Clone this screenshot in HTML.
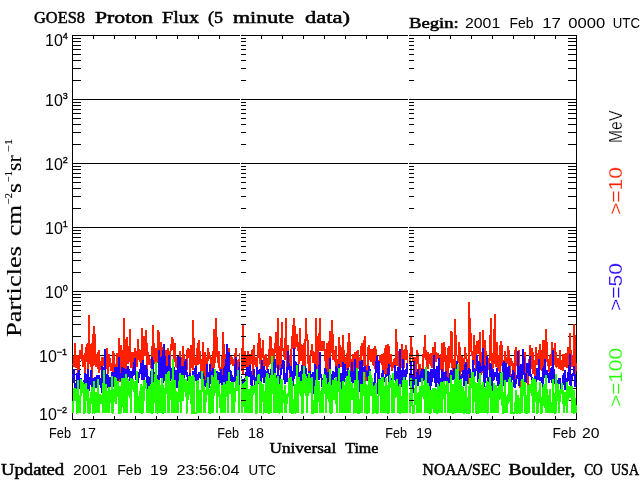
<!DOCTYPE html>
<html><head><meta charset="utf-8"><title>GOES8 Proton Flux</title>
<style>html,body{margin:0;padding:0;background:#fff;}body{width:640px;height:480px;overflow:hidden;}svg{display:block;}</style>
</head><body>
<svg width="640" height="480" viewBox="0 0 640 480">
<g fill="#000" shape-rendering="crispEdges"><rect x="72" y="99" width="505" height="1"/><rect x="72" y="163" width="505" height="1"/><rect x="72" y="227" width="505" height="1"/><rect x="72" y="291" width="505" height="1"/><rect x="72" y="355" width="505" height="1"/><rect x="73" y="80" width="8" height="1"/><rect x="568" y="80" width="8" height="1"/><rect x="73" y="68" width="8" height="1"/><rect x="568" y="68" width="8" height="1"/><rect x="73" y="60" width="8" height="1"/><rect x="568" y="60" width="8" height="1"/><rect x="73" y="54" width="8" height="1"/><rect x="568" y="54" width="8" height="1"/><rect x="73" y="49" width="8" height="1"/><rect x="568" y="49" width="8" height="1"/><rect x="73" y="45" width="8" height="1"/><rect x="568" y="45" width="8" height="1"/><rect x="73" y="41" width="8" height="1"/><rect x="568" y="41" width="8" height="1"/><rect x="73" y="38" width="8" height="1"/><rect x="568" y="38" width="8" height="1"/><rect x="73" y="144" width="8" height="1"/><rect x="568" y="144" width="8" height="1"/><rect x="73" y="132" width="8" height="1"/><rect x="568" y="132" width="8" height="1"/><rect x="73" y="124" width="8" height="1"/><rect x="568" y="124" width="8" height="1"/><rect x="73" y="118" width="8" height="1"/><rect x="568" y="118" width="8" height="1"/><rect x="73" y="113" width="8" height="1"/><rect x="568" y="113" width="8" height="1"/><rect x="73" y="109" width="8" height="1"/><rect x="568" y="109" width="8" height="1"/><rect x="73" y="105" width="8" height="1"/><rect x="568" y="105" width="8" height="1"/><rect x="73" y="102" width="8" height="1"/><rect x="568" y="102" width="8" height="1"/><rect x="73" y="208" width="8" height="1"/><rect x="568" y="208" width="8" height="1"/><rect x="73" y="196" width="8" height="1"/><rect x="568" y="196" width="8" height="1"/><rect x="73" y="188" width="8" height="1"/><rect x="568" y="188" width="8" height="1"/><rect x="73" y="182" width="8" height="1"/><rect x="568" y="182" width="8" height="1"/><rect x="73" y="177" width="8" height="1"/><rect x="568" y="177" width="8" height="1"/><rect x="73" y="173" width="8" height="1"/><rect x="568" y="173" width="8" height="1"/><rect x="73" y="169" width="8" height="1"/><rect x="568" y="169" width="8" height="1"/><rect x="73" y="166" width="8" height="1"/><rect x="568" y="166" width="8" height="1"/><rect x="73" y="272" width="8" height="1"/><rect x="568" y="272" width="8" height="1"/><rect x="73" y="260" width="8" height="1"/><rect x="568" y="260" width="8" height="1"/><rect x="73" y="252" width="8" height="1"/><rect x="568" y="252" width="8" height="1"/><rect x="73" y="246" width="8" height="1"/><rect x="568" y="246" width="8" height="1"/><rect x="73" y="241" width="8" height="1"/><rect x="568" y="241" width="8" height="1"/><rect x="73" y="237" width="8" height="1"/><rect x="568" y="237" width="8" height="1"/><rect x="73" y="233" width="8" height="1"/><rect x="568" y="233" width="8" height="1"/><rect x="73" y="230" width="8" height="1"/><rect x="568" y="230" width="8" height="1"/><rect x="73" y="336" width="8" height="1"/><rect x="568" y="336" width="8" height="1"/><rect x="73" y="324" width="8" height="1"/><rect x="568" y="324" width="8" height="1"/><rect x="73" y="316" width="8" height="1"/><rect x="568" y="316" width="8" height="1"/><rect x="73" y="310" width="8" height="1"/><rect x="568" y="310" width="8" height="1"/><rect x="73" y="305" width="8" height="1"/><rect x="568" y="305" width="8" height="1"/><rect x="73" y="301" width="8" height="1"/><rect x="568" y="301" width="8" height="1"/><rect x="73" y="297" width="8" height="1"/><rect x="568" y="297" width="8" height="1"/><rect x="73" y="294" width="8" height="1"/><rect x="568" y="294" width="8" height="1"/><rect x="73" y="400" width="8" height="1"/><rect x="568" y="400" width="8" height="1"/><rect x="73" y="388" width="8" height="1"/><rect x="568" y="388" width="8" height="1"/><rect x="73" y="380" width="8" height="1"/><rect x="568" y="380" width="8" height="1"/><rect x="73" y="374" width="8" height="1"/><rect x="568" y="374" width="8" height="1"/><rect x="73" y="369" width="8" height="1"/><rect x="568" y="369" width="8" height="1"/><rect x="73" y="365" width="8" height="1"/><rect x="568" y="365" width="8" height="1"/><rect x="73" y="361" width="8" height="1"/><rect x="568" y="361" width="8" height="1"/><rect x="73" y="358" width="8" height="1"/><rect x="568" y="358" width="8" height="1"/><rect x="93" y="36" width="1" height="3"/><rect x="93" y="416" width="1" height="3"/><rect x="114" y="36" width="1" height="3"/><rect x="114" y="416" width="1" height="3"/><rect x="135" y="36" width="1" height="3"/><rect x="135" y="416" width="1" height="3"/><rect x="156" y="36" width="1" height="3"/><rect x="156" y="416" width="1" height="3"/><rect x="177" y="36" width="1" height="3"/><rect x="177" y="416" width="1" height="3"/><rect x="198" y="36" width="1" height="3"/><rect x="198" y="416" width="1" height="3"/><rect x="219" y="36" width="1" height="3"/><rect x="219" y="416" width="1" height="3"/><rect x="261" y="36" width="1" height="3"/><rect x="261" y="416" width="1" height="3"/><rect x="282" y="36" width="1" height="3"/><rect x="282" y="416" width="1" height="3"/><rect x="303" y="36" width="1" height="3"/><rect x="303" y="416" width="1" height="3"/><rect x="324" y="36" width="1" height="3"/><rect x="324" y="416" width="1" height="3"/><rect x="345" y="36" width="1" height="3"/><rect x="345" y="416" width="1" height="3"/><rect x="366" y="36" width="1" height="3"/><rect x="366" y="416" width="1" height="3"/><rect x="387" y="36" width="1" height="3"/><rect x="387" y="416" width="1" height="3"/><rect x="429" y="36" width="1" height="3"/><rect x="429" y="416" width="1" height="3"/><rect x="450" y="36" width="1" height="3"/><rect x="450" y="416" width="1" height="3"/><rect x="471" y="36" width="1" height="3"/><rect x="471" y="416" width="1" height="3"/><rect x="492" y="36" width="1" height="3"/><rect x="492" y="416" width="1" height="3"/><rect x="513" y="36" width="1" height="3"/><rect x="513" y="416" width="1" height="3"/><rect x="534" y="36" width="1" height="3"/><rect x="534" y="416" width="1" height="3"/><rect x="555" y="36" width="1" height="3"/><rect x="555" y="416" width="1" height="3"/><rect x="72" y="35" width="505" height="1"/><rect x="72" y="419" width="505" height="1"/><rect x="72" y="35" width="1" height="385"/><rect x="576" y="35" width="1" height="385"/></g>
<g><path fill="#ff2000" d="M72 364h1v1h-1zM73 356h1v11h-1zM74 343h1v24h-1zM75 343h1v25h-1zM76 355h1v13h-1zM77 355h1v18h-1zM78 355h1v15h-1zM79 350h1v20h-1zM80 350h1v9h-1zM81 344h1v17h-1zM82 344h1v23h-1zM83 355h1v12h-1zM84 353h1v20h-1zM85 347h1v26h-1zM86 344h1v18h-1zM87 343h1v26h-1zM88 315h1v54h-1zM89 315h1v49h-1zM90 344h1v23h-1zM91 343h1v27h-1zM92 334h1v44h-1zM93 326h1v40h-1zM94 326h1v39h-1zM95 334h1v33h-1zM96 354h1v13h-1zM97 352h1v17h-1zM98 350h1v23h-1zM99 350h1v23h-1zM100 361h1v9h-1zM101 357h1v9h-1zM102 357h1v9h-1zM103 357h1v9h-1zM106 348h1v21h-1zM107 348h1v26h-1zM108 354h1v20h-1zM109 354h1v13h-1zM110 358h1v13h-1zM111 363h1v8h-1zM112 351h1v21h-1zM113 351h1v21h-1zM114 353h1v14h-1zM115 364h1v3h-1zM116 353h1v14h-1zM117 353h1v14h-1zM118 338h1v19h-1zM119 338h1v19h-1zM119 379h1v3h-1zM120 345h1v28h-1zM120 381h1v1h-1zM121 345h1v22h-1zM122 350h1v17h-1zM123 318h1v50h-1zM124 318h1v50h-1zM125 339h1v30h-1zM126 337h1v32h-1zM127 337h1v27h-1zM128 346h1v18h-1zM129 329h1v33h-1zM130 329h1v39h-1zM131 352h1v16h-1zM132 352h1v17h-1zM133 352h1v10h-1zM134 348h1v10h-1zM135 348h1v10h-1zM136 351h1v16h-1zM137 339h1v28h-1zM138 339h1v21h-1zM139 349h1v13h-1zM140 350h1v13h-1zM141 328h1v35h-1zM142 328h1v32h-1zM143 336h1v24h-1zM144 336h1v20h-1zM145 330h1v26h-1zM146 330h1v35h-1zM147 343h1v26h-1zM148 352h1v13h-1zM149 356h1v9h-1zM150 359h1v9h-1zM151 346h1v11h-1zM152 325h1v32h-1zM153 325h1v35h-1zM154 343h1v21h-1zM155 348h1v14h-1zM156 348h1v14h-1zM157 330h1v33h-1zM158 330h1v20h-1zM159 332h1v18h-1zM160 342h1v15h-1zM161 342h1v14h-1zM162 347h1v3h-1zM165 350h1v6h-1zM166 350h1v16h-1zM167 348h1v18h-1zM168 348h1v7h-1zM169 351h1v4h-1zM170 344h1v22h-1zM171 337h1v14h-1zM172 337h1v13h-1zM173 339h1v20h-1zM174 343h1v19h-1zM175 343h1v24h-1zM176 357h1v11h-1zM179 351h1v6h-1zM180 351h1v6h-1zM181 357h1v9h-1zM182 346h1v20h-1zM183 346h1v20h-1zM184 354h1v7h-1zM186 350h1v9h-1zM187 348h1v22h-1zM188 348h1v10h-1zM189 349h1v24h-1zM190 345h1v28h-1zM191 345h1v23h-1zM192 320h1v50h-1zM193 320h1v50h-1zM194 338h1v27h-1zM195 357h1v9h-1zM196 348h1v18h-1zM197 343h1v22h-1zM198 340h1v25h-1zM199 340h1v24h-1zM200 351h1v20h-1zM201 359h1v12h-1zM202 342h1v29h-1zM203 342h1v31h-1zM204 352h1v24h-1zM205 352h1v28h-1zM206 357h1v7h-1zM207 348h1v16h-1zM208 348h1v13h-1zM209 352h1v7h-1zM210 355h1v9h-1zM211 357h1v14h-1zM212 351h1v17h-1zM213 329h1v39h-1zM214 329h1v39h-1zM215 318h1v45h-1zM216 318h1v39h-1zM217 337h1v26h-1zM218 351h1v17h-1zM219 351h1v20h-1zM220 367h1v2h-1zM221 356h1v13h-1zM222 332h1v43h-1zM223 332h1v36h-1zM224 344h1v22h-1zM225 354h1v5h-1zM228 348h1v4h-1zM229 348h1v4h-1zM230 356h1v9h-1zM231 356h1v8h-1zM232 357h1v9h-1zM233 359h1v7h-1zM234 353h1v11h-1zM235 348h1v9h-1zM236 348h1v9h-1zM237 360h1v10h-1zM238 359h1v8h-1zM239 353h1v9h-1zM240 353h1v9h-1zM241 348h1v23h-1zM242 325h1v49h-1zM243 325h1v49h-1zM244 351h1v17h-1zM245 351h1v17h-1zM246 356h1v11h-1zM247 351h1v16h-1zM248 351h1v16h-1zM249 354h1v11h-1zM250 354h1v11h-1zM251 350h1v14h-1zM252 349h1v26h-1zM253 345h1v24h-1zM254 345h1v20h-1zM255 357h1v10h-1zM256 357h1v10h-1zM257 343h1v24h-1zM258 333h1v25h-1zM259 333h1v31h-1zM260 338h1v31h-1zM261 348h1v12h-1zM262 340h1v18h-1zM263 340h1v26h-1zM264 355h1v11h-1zM265 354h1v12h-1zM266 354h1v16h-1zM267 358h1v11h-1zM268 349h1v18h-1zM269 336h1v29h-1zM270 336h1v28h-1zM271 337h1v19h-1zM272 348h1v8h-1zM273 349h1v13h-1zM274 343h1v16h-1zM275 332h1v21h-1zM276 332h1v36h-1zM277 318h1v47h-1zM278 318h1v47h-1zM279 346h1v24h-1zM280 338h1v30h-1zM281 322h1v42h-1zM282 322h1v29h-1zM283 348h1v9h-1zM284 338h1v22h-1zM285 318h1v42h-1zM286 318h1v49h-1zM287 345h1v6h-1zM288 345h1v6h-1zM289 355h1v8h-1zM289 373h1v5h-1zM290 349h1v17h-1zM291 336h1v30h-1zM292 325h1v24h-1zM293 318h1v30h-1zM294 318h1v30h-1zM295 326h1v23h-1zM296 334h1v13h-1zM297 334h1v17h-1zM298 342h1v22h-1zM299 328h1v36h-1zM300 328h1v33h-1zM301 344h1v17h-1zM302 345h1v20h-1zM303 343h1v23h-1zM304 339h1v27h-1zM305 318h1v48h-1zM306 318h1v23h-1zM307 334h1v30h-1zM308 340h1v31h-1zM309 355h1v16h-1zM310 350h1v21h-1zM311 344h1v11h-1zM312 344h1v19h-1zM313 351h1v12h-1zM314 352h1v12h-1zM315 318h1v46h-1zM316 318h1v48h-1zM317 336h1v33h-1zM318 333h1v32h-1zM319 318h1v33h-1zM320 318h1v33h-1zM321 341h1v10h-1zM322 341h1v10h-1zM323 341h1v10h-1zM324 341h1v20h-1zM325 349h1v19h-1zM326 343h1v26h-1zM327 343h1v29h-1zM328 341h1v31h-1zM329 331h1v27h-1zM330 331h1v27h-1zM331 320h1v33h-1zM332 320h1v40h-1zM333 334h1v26h-1zM334 350h1v12h-1zM335 346h1v20h-1zM336 346h1v20h-1zM337 359h1v9h-1zM338 337h1v27h-1zM339 337h1v27h-1zM340 345h1v22h-1zM341 347h1v20h-1zM342 335h1v27h-1zM343 335h1v27h-1zM344 350h1v14h-1zM345 357h1v7h-1zM346 353h1v17h-1zM347 342h1v26h-1zM348 333h1v35h-1zM349 333h1v34h-1zM350 342h1v29h-1zM351 359h1v3h-1zM352 354h1v8h-1zM353 354h1v17h-1zM354 352h1v7h-1zM355 352h1v7h-1zM356 351h1v17h-1zM357 350h1v18h-1zM358 350h1v19h-1zM359 357h1v4h-1zM360 346h1v15h-1zM361 343h1v17h-1zM362 343h1v13h-1zM363 340h1v26h-1zM364 336h1v30h-1zM365 336h1v30h-1zM365 372h1v9h-1zM366 365h1v5h-1zM366 377h1v4h-1zM367 347h1v24h-1zM368 345h1v21h-1zM369 345h1v15h-1zM370 349h1v13h-1zM371 349h1v13h-1zM372 349h1v16h-1zM373 348h1v18h-1zM374 346h1v23h-1zM375 346h1v15h-1zM376 349h1v7h-1zM378 360h1v1h-1zM379 355h1v6h-1zM380 355h1v8h-1zM381 354h1v11h-1zM382 354h1v16h-1zM383 353h1v17h-1zM384 348h1v26h-1zM385 345h1v29h-1zM386 345h1v29h-1zM387 344h1v24h-1zM388 344h1v20h-1zM389 346h1v18h-1zM390 354h1v13h-1zM391 354h1v17h-1zM392 362h1v9h-1zM393 359h1v9h-1zM394 358h1v7h-1zM395 329h1v36h-1zM396 329h1v37h-1zM397 342h1v24h-1zM398 351h1v16h-1zM401 344h1v24h-1zM402 344h1v15h-1zM403 350h1v9h-1zM404 349h1v19h-1zM405 345h1v15h-1zM406 345h1v15h-1zM407 350h1v13h-1zM408 356h1v7h-1zM409 353h1v11h-1zM410 337h1v24h-1zM411 337h1v20h-1zM412 347h1v15h-1zM413 357h1v4h-1zM414 357h1v4h-1zM415 357h1v20h-1zM416 350h1v22h-1zM417 350h1v14h-1zM418 353h1v16h-1zM419 364h1v11h-1zM420 364h1v7h-1zM421 368h1v1h-1zM422 354h1v15h-1zM423 347h1v22h-1zM424 335h1v23h-1zM425 335h1v25h-1zM426 350h1v17h-1zM427 352h1v17h-1zM428 352h1v17h-1zM429 354h1v10h-1zM430 353h1v13h-1zM431 353h1v15h-1zM432 347h1v21h-1zM433 347h1v8h-1zM434 342h1v13h-1zM435 342h1v20h-1zM436 352h1v10h-1zM437 353h1v6h-1zM438 353h1v5h-1zM439 356h1v2h-1zM440 354h1v16h-1zM441 343h1v26h-1zM442 343h1v26h-1zM443 342h1v30h-1zM444 342h1v20h-1zM445 347h1v24h-1zM446 355h1v16h-1zM447 348h1v29h-1zM448 346h1v32h-1zM449 346h1v22h-1zM450 331h1v32h-1zM451 331h1v37h-1zM452 332h1v39h-1zM453 359h1v9h-1zM454 319h1v49h-1zM455 319h1v50h-1zM456 335h1v21h-1zM457 355h1v6h-1zM458 342h1v21h-1zM459 342h1v29h-1zM460 347h1v29h-1zM461 356h1v16h-1zM462 356h1v14h-1zM463 358h1v12h-1zM464 347h1v17h-1zM465 347h1v12h-1zM466 353h1v9h-1zM467 359h1v11h-1zM468 302h1v66h-1zM468 374h1v10h-1zM469 302h1v66h-1zM470 318h1v34h-1zM471 333h1v23h-1zM472 351h1v9h-1zM473 335h1v25h-1zM474 335h1v30h-1zM475 345h1v24h-1zM476 341h1v14h-1zM477 341h1v13h-1zM478 340h1v14h-1zM479 332h1v29h-1zM480 332h1v31h-1zM481 352h1v14h-1zM481 372h1v3h-1zM482 330h1v18h-1zM482 371h1v2h-1zM483 330h1v18h-1zM484 340h1v25h-1zM485 340h1v26h-1zM486 351h1v5h-1zM488 358h1v12h-1zM489 335h1v28h-1zM490 318h1v43h-1zM491 318h1v46h-1zM492 353h1v16h-1zM493 329h1v39h-1zM494 314h1v50h-1zM495 314h1v53h-1zM496 342h1v25h-1zM497 342h1v26h-1zM498 355h1v16h-1zM499 345h1v27h-1zM500 341h1v31h-1zM501 341h1v25h-1zM502 345h1v18h-1zM503 360h1v1h-1zM504 351h1v10h-1zM505 351h1v12h-1zM506 357h1v6h-1zM507 346h1v18h-1zM508 346h1v20h-1zM509 350h1v16h-1zM510 358h1v18h-1zM511 358h1v8h-1zM512 361h1v9h-1zM513 363h1v7h-1zM514 350h1v22h-1zM515 347h1v32h-1zM516 347h1v19h-1zM518 350h1v1h-1zM519 350h1v16h-1zM519 386h1v2h-1zM520 381h1v6h-1zM524 352h1v5h-1zM525 352h1v21h-1zM527 373h1v12h-1zM528 359h1v4h-1zM528 376h1v9h-1zM529 345h1v11h-1zM530 345h1v11h-1zM531 348h1v21h-1zM532 348h1v26h-1zM533 352h1v22h-1zM534 360h1v16h-1zM535 347h1v29h-1zM536 347h1v18h-1zM537 353h1v12h-1zM538 350h1v9h-1zM539 344h1v15h-1zM540 344h1v26h-1zM541 350h1v21h-1zM542 340h1v28h-1zM543 340h1v26h-1zM544 340h1v19h-1zM545 329h1v30h-1zM546 329h1v33h-1zM547 342h1v24h-1zM548 359h1v13h-1zM549 355h1v17h-1zM550 354h1v12h-1zM551 342h1v24h-1zM552 342h1v8h-1zM553 348h1v2h-1zM554 343h1v22h-1zM555 343h1v24h-1zM556 352h1v16h-1zM557 358h1v9h-1zM558 358h1v11h-1zM559 350h1v19h-1zM560 350h1v20h-1zM561 360h1v10h-1zM562 354h1v17h-1zM563 354h1v17h-1zM564 354h1v13h-1zM565 353h1v14h-1zM566 353h1v15h-1zM567 347h1v21h-1zM568 347h1v18h-1zM569 333h1v21h-1zM570 333h1v21h-1zM571 350h1v17h-1zM572 355h1v12h-1zM573 324h1v42h-1zM574 324h1v42h-1zM575 335h1v39h-1zM576 363h1v8h-1z"/><path fill="#2000ff" d="M72 374h1v4h-1zM73 369h1v14h-1zM74 369h1v19h-1zM75 383h1v5h-1zM76 373h1v16h-1zM77 373h1v7h-1zM78 370h1v10h-1zM79 370h1v18h-1zM80 378h1v1h-1zM81 378h1v1h-1zM83 380h1v2h-1zM84 373h1v11h-1zM85 373h1v10h-1zM86 374h1v9h-1zM87 369h1v20h-1zM88 369h1v20h-1zM89 377h1v14h-1zM90 370h1v15h-1zM91 370h1v17h-1zM92 378h1v9h-1zM93 378h1v3h-1zM94 377h1v4h-1zM95 377h1v11h-1zM96 375h1v13h-1zM97 375h1v4h-1zM98 375h1v4h-1zM99 375h1v10h-1zM100 378h1v10h-1zM101 366h1v27h-1zM102 366h1v17h-1zM103 367h1v3h-1zM104 349h1v21h-1zM105 349h1v35h-1zM106 374h1v10h-1zM107 374h1v14h-1zM108 375h1v12h-1zM109 377h1v10h-1zM110 377h1v10h-1zM111 372h1v4h-1zM112 372h1v4h-1zM113 372h1v15h-1zM114 367h1v10h-1zM115 367h1v10h-1zM116 367h1v11h-1zM117 367h1v14h-1zM118 357h1v24h-1zM119 357h1v22h-1zM120 373h1v8h-1zM121 367h1v11h-1zM122 367h1v11h-1zM123 368h1v10h-1zM124 368h1v10h-1zM125 369h1v5h-1zM126 369h1v5h-1zM127 366h1v12h-1zM128 366h1v11h-1zM129 369h1v12h-1zM130 371h1v7h-1zM131 371h1v7h-1zM132 369h1v10h-1zM133 362h1v14h-1zM134 358h1v17h-1zM135 358h1v22h-1zM138 372h1v11h-1zM139 369h1v9h-1zM140 363h1v11h-1zM141 363h1v17h-1zM142 360h1v20h-1zM143 360h1v20h-1zM144 365h1v15h-1zM145 365h1v12h-1zM146 365h1v18h-1zM147 369h1v20h-1zM148 376h1v10h-1zM149 377h1v9h-1zM150 371h1v13h-1zM151 357h1v12h-1zM152 357h1v12h-1zM153 360h1v22h-1zM154 372h1v2h-1zM157 375h1v4h-1zM158 350h1v30h-1zM159 350h1v30h-1zM160 357h1v21h-1zM161 356h1v22h-1zM162 350h1v28h-1zM163 344h1v39h-1zM164 344h1v37h-1zM165 356h1v18h-1zM166 366h1v8h-1zM167 366h1v6h-1zM168 355h1v16h-1zM169 355h1v16h-1zM170 366h1v15h-1zM171 368h1v11h-1zM174 367h1v13h-1zM175 370h1v10h-1zM176 370h1v18h-1zM177 356h1v32h-1zM178 356h1v25h-1zM179 357h1v16h-1zM180 357h1v16h-1zM181 366h1v9h-1zM182 366h1v9h-1zM183 366h1v9h-1zM184 361h1v17h-1zM185 359h1v16h-1zM186 359h1v18h-1zM187 372h1v9h-1zM188 375h1v1h-1zM189 373h1v3h-1zM190 373h1v3h-1zM192 371h1v4h-1zM193 371h1v4h-1zM194 368h1v9h-1zM195 366h1v15h-1zM196 366h1v15h-1zM197 374h1v6h-1zM198 372h1v8h-1zM199 372h1v6h-1zM200 371h1v8h-1zM203 373h1v6h-1zM204 376h1v10h-1zM205 380h1v7h-1zM206 364h1v19h-1zM207 364h1v13h-1zM208 372h1v5h-1zM209 364h1v24h-1zM210 364h1v20h-1zM211 371h1v4h-1zM212 368h1v7h-1zM213 368h1v9h-1zM216 371h1v2h-1zM217 371h1v9h-1zM218 372h1v8h-1zM219 372h1v12h-1zM220 369h1v14h-1zM221 369h1v16h-1zM222 375h1v10h-1zM223 368h1v14h-1zM224 366h1v16h-1zM225 359h1v25h-1zM226 344h1v37h-1zM227 344h1v37h-1zM228 352h1v20h-1zM229 352h1v20h-1zM230 370h1v11h-1zM231 371h1v11h-1zM232 375h1v7h-1zM233 377h1v5h-1zM234 364h1v18h-1zM235 357h1v24h-1zM236 357h1v19h-1zM238 367h1v3h-1zM239 362h1v23h-1zM240 362h1v16h-1zM241 376h1v2h-1zM242 379h1v5h-1zM243 379h1v4h-1zM244 378h1v4h-1zM245 372h1v5h-1zM246 367h1v9h-1zM247 367h1v9h-1zM248 367h1v10h-1zM249 365h1v12h-1zM250 365h1v20h-1zM251 371h1v15h-1zM252 375h1v11h-1zM253 369h1v11h-1zM254 369h1v16h-1zM255 377h1v4h-1zM256 367h1v14h-1zM257 367h1v8h-1zM258 370h1v4h-1zM258 383h1v1h-1zM259 369h1v5h-1zM260 369h1v12h-1zM261 360h1v22h-1zM262 360h1v18h-1zM263 366h1v17h-1zM264 366h1v17h-1zM265 370h1v7h-1zM266 371h1v2h-1zM267 369h1v4h-1zM268 369h1v5h-1zM269 373h1v5h-1zM270 369h1v6h-1zM273 362h1v13h-1zM274 359h1v14h-1zM275 359h1v14h-1zM276 375h1v3h-1zM277 365h1v11h-1zM278 365h1v11h-1zM279 375h1v9h-1zM280 368h1v11h-1zM281 364h1v11h-1zM282 360h1v9h-1zM283 360h1v20h-1zM284 361h1v23h-1zM285 373h1v11h-1zM286 367h1v15h-1zM287 351h1v31h-1zM288 351h1v19h-1zM289 363h1v10h-1zM290 366h1v11h-1zM291 366h1v11h-1zM292 371h1v10h-1zM293 348h1v38h-1zM294 348h1v31h-1zM295 361h1v15h-1zM296 362h1v3h-1zM297 364h1v1h-1zM298 364h1v13h-1zM299 372h1v5h-1zM300 371h1v10h-1zM301 365h1v16h-1zM302 365h1v9h-1zM305 366h1v8h-1zM306 368h1v8h-1zM307 374h1v4h-1zM308 371h1v2h-1zM309 371h1v2h-1zM310 371h1v7h-1zM311 374h1v3h-1zM312 372h1v5h-1zM313 372h1v22h-1zM314 364h1v22h-1zM315 364h1v16h-1zM316 366h1v3h-1zM318 365h1v15h-1zM319 352h1v28h-1zM320 352h1v26h-1zM321 374h1v13h-1zM322 378h1v2h-1zM324 368h1v6h-1zM325 368h1v7h-1zM326 369h1v9h-1zM327 372h1v12h-1zM328 372h1v10h-1zM329 358h1v11h-1zM330 358h1v11h-1zM331 374h1v11h-1zM332 371h1v9h-1zM333 371h1v9h-1zM334 372h1v6h-1zM335 366h1v11h-1zM336 366h1v11h-1zM337 368h1v13h-1zM338 364h1v4h-1zM339 364h1v4h-1zM340 373h1v9h-1zM341 373h1v16h-1zM342 362h1v19h-1zM343 362h1v19h-1zM344 364h1v18h-1zM345 364h1v14h-1zM346 371h1v5h-1zM347 368h1v8h-1zM348 368h1v2h-1zM350 371h1v6h-1zM351 362h1v20h-1zM352 362h1v21h-1zM353 371h1v12h-1zM354 359h1v21h-1zM355 359h1v21h-1zM358 371h1v9h-1zM359 361h1v31h-1zM360 361h1v23h-1zM361 360h1v24h-1zM362 360h1v24h-1zM363 367h1v5h-1zM364 366h1v6h-1zM365 366h1v6h-1zM366 370h1v7h-1zM367 371h1v10h-1zM368 366h1v10h-1zM369 366h1v5h-1zM370 369h1v2h-1zM373 382h1v4h-1zM374 373h1v12h-1zM375 361h1v22h-1zM376 356h1v17h-1zM377 356h1v38h-1zM378 361h1v18h-1zM379 361h1v18h-1zM380 378h1v1h-1zM381 373h1v4h-1zM382 370h1v7h-1zM383 370h1v7h-1zM384 377h1v5h-1zM385 374h1v4h-1zM386 374h1v3h-1zM387 368h1v8h-1zM388 364h1v18h-1zM389 364h1v11h-1zM391 378h1v2h-1zM394 365h1v15h-1zM395 365h1v16h-1zM396 371h1v8h-1zM397 367h1v12h-1zM398 367h1v19h-1zM399 349h1v35h-1zM400 349h1v35h-1zM401 370h1v17h-1zM402 359h1v21h-1zM403 359h1v18h-1zM404 370h1v7h-1zM405 369h1v11h-1zM406 363h1v14h-1zM407 363h1v11h-1zM408 369h1v15h-1zM409 373h1v13h-1zM410 361h1v17h-1zM411 361h1v17h-1zM412 375h1v14h-1zM413 361h1v32h-1zM414 361h1v24h-1zM415 377h1v2h-1zM416 372h1v7h-1zM417 369h1v17h-1zM418 369h1v17h-1zM419 375h1v7h-1zM420 371h1v11h-1zM421 369h1v9h-1zM422 369h1v9h-1zM423 369h1v12h-1zM424 369h1v11h-1zM427 371h1v12h-1zM428 371h1v12h-1zM429 372h1v14h-1zM430 369h1v21h-1zM431 369h1v17h-1zM432 369h1v13h-1zM433 355h1v23h-1zM434 355h1v28h-1zM435 369h1v18h-1zM436 366h1v21h-1zM437 366h1v17h-1zM438 358h1v26h-1zM439 358h1v28h-1zM440 378h1v4h-1zM441 369h1v13h-1zM442 369h1v13h-1zM443 372h1v9h-1zM444 372h1v9h-1zM445 371h1v10h-1zM446 371h1v10h-1zM447 377h1v4h-1zM448 378h1v5h-1zM449 373h1v10h-1zM450 370h1v5h-1zM451 370h1v5h-1zM452 371h1v9h-1zM453 368h1v12h-1zM454 368h1v11h-1zM456 361h1v8h-1zM457 361h1v3h-1zM459 371h1v9h-1zM460 376h1v3h-1zM461 374h1v5h-1zM462 370h1v8h-1zM463 370h1v16h-1zM464 364h1v22h-1zM465 362h1v19h-1zM466 362h1v19h-1zM467 370h1v14h-1zM468 368h1v6h-1zM469 368h1v10h-1zM470 369h1v9h-1zM472 360h1v12h-1zM473 360h1v12h-1zM474 368h1v9h-1zM475 369h1v7h-1zM476 355h1v16h-1zM477 355h1v27h-1zM478 361h1v18h-1zM479 361h1v12h-1zM480 363h1v10h-1zM481 366h1v6h-1zM482 348h1v23h-1zM483 348h1v34h-1zM484 365h1v22h-1zM485 366h1v17h-1zM486 356h1v22h-1zM487 356h1v25h-1zM488 377h1v5h-1zM489 363h1v14h-1zM490 363h1v14h-1zM491 364h1v22h-1zM492 369h1v22h-1zM493 369h1v12h-1zM494 372h1v8h-1zM495 372h1v5h-1zM496 368h1v13h-1zM497 368h1v18h-1zM498 373h1v13h-1zM499 372h1v12h-1zM500 372h1v1h-1zM502 363h1v9h-1zM503 361h1v25h-1zM504 361h1v19h-1zM505 363h1v17h-1zM506 363h1v19h-1zM507 367h1v15h-1zM508 366h1v13h-1zM509 366h1v11h-1zM510 376h1v1h-1zM511 374h1v8h-1zM512 370h1v10h-1zM513 370h1v17h-1zM514 372h1v16h-1zM515 379h1v9h-1zM516 375h1v9h-1zM517 351h1v28h-1zM518 351h1v35h-1zM519 366h1v20h-1zM520 364h1v17h-1zM521 364h1v15h-1zM522 349h1v30h-1zM523 349h1v26h-1zM524 357h1v25h-1zM525 373h1v9h-1zM526 363h1v20h-1zM527 363h1v10h-1zM528 363h1v13h-1zM529 356h1v20h-1zM530 356h1v21h-1zM531 374h1v6h-1zM532 377h1v1h-1zM534 376h1v3h-1zM535 376h1v3h-1zM536 368h1v14h-1zM537 368h1v12h-1zM538 359h1v21h-1zM539 359h1v22h-1zM540 377h1v4h-1zM541 377h1v6h-1zM542 368h1v19h-1zM543 366h1v18h-1zM544 359h1v19h-1zM545 359h1v16h-1zM546 370h1v5h-1zM547 370h1v8h-1zM548 373h1v10h-1zM549 372h1v11h-1zM550 368h1v12h-1zM551 367h1v16h-1zM552 350h1v29h-1zM553 350h1v29h-1zM554 369h1v15h-1zM557 380h1v3h-1zM558 378h1v6h-1zM559 378h1v6h-1zM560 378h1v11h-1zM562 375h1v8h-1zM563 373h1v12h-1zM564 370h1v20h-1zM565 370h1v20h-1zM566 378h1v4h-1zM567 372h1v10h-1zM568 366h1v14h-1zM569 354h1v31h-1zM570 354h1v32h-1zM571 375h1v11h-1zM572 373h1v7h-1zM573 366h1v10h-1zM574 366h1v21h-1zM575 374h1v13h-1zM576 383h1v2h-1z"/><path fill="#20ff00" d="M72 401h1v12h-1zM73 388h1v25h-1zM74 388h1v13h-1zM75 388h1v13h-1zM76 389h1v25h-1zM77 380h1v33h-1zM78 380h1v33h-1zM79 395h1v18h-1zM80 379h1v34h-1zM81 379h1v17h-1zM82 382h1v11h-1zM83 382h1v32h-1zM84 384h1v30h-1zM85 383h1v30h-1zM86 383h1v18h-1zM87 389h1v24h-1zM88 389h1v25h-1zM89 398h1v16h-1zM90 392h1v21h-1zM91 387h1v17h-1zM92 387h1v27h-1zM93 381h1v32h-1zM94 381h1v33h-1zM95 392h1v21h-1zM96 392h1v21h-1zM97 379h1v34h-1zM98 379h1v34h-1zM99 394h1v19h-1zM100 394h1v10h-1zM101 395h1v9h-1zM102 383h1v30h-1zM103 370h1v43h-1zM104 370h1v43h-1zM105 384h1v29h-1zM106 384h1v29h-1zM107 391h1v22h-1zM108 387h1v26h-1zM109 387h1v26h-1zM110 390h1v13h-1zM111 376h1v37h-1zM112 376h1v38h-1zM113 389h1v24h-1zM114 377h1v25h-1zM115 377h1v27h-1zM116 378h1v26h-1zM117 381h1v16h-1zM118 381h1v33h-1zM119 386h1v28h-1zM120 386h1v28h-1zM121 378h1v35h-1zM122 378h1v29h-1zM123 378h1v35h-1zM124 378h1v35h-1zM125 374h1v39h-1zM126 374h1v39h-1zM127 378h1v35h-1zM128 379h1v17h-1zM129 382h1v16h-1zM130 378h1v35h-1zM131 378h1v35h-1zM132 379h1v11h-1zM133 379h1v13h-1zM134 381h1v32h-1zM135 381h1v32h-1zM136 371h1v42h-1zM137 371h1v42h-1zM138 396h1v17h-1zM139 391h1v22h-1zM140 384h1v29h-1zM141 384h1v30h-1zM142 386h1v28h-1zM143 380h1v33h-1zM144 380h1v21h-1zM145 380h1v9h-1zM146 383h1v30h-1zM147 389h1v24h-1zM148 386h1v27h-1zM149 386h1v27h-1zM150 384h1v29h-1zM151 369h1v45h-1zM152 369h1v45h-1zM153 382h1v31h-1zM154 374h1v29h-1zM155 362h1v51h-1zM156 362h1v51h-1zM157 379h1v35h-1zM158 380h1v33h-1zM159 380h1v33h-1zM160 385h1v28h-1zM161 378h1v35h-1zM162 378h1v36h-1zM163 385h1v29h-1zM164 388h1v25h-1zM165 374h1v39h-1zM166 374h1v20h-1zM167 372h1v41h-1zM168 371h1v42h-1zM169 371h1v42h-1zM170 382h1v18h-1zM171 379h1v34h-1zM172 359h1v54h-1zM173 359h1v54h-1zM174 380h1v33h-1zM175 380h1v33h-1zM176 391h1v22h-1zM177 392h1v21h-1zM178 381h1v32h-1zM179 373h1v29h-1zM180 373h1v40h-1zM181 375h1v38h-1zM182 375h1v26h-1zM183 375h1v26h-1zM184 378h1v14h-1zM185 379h1v18h-1zM186 379h1v35h-1zM187 382h1v31h-1zM188 376h1v24h-1zM189 376h1v19h-1zM190 376h1v28h-1zM191 376h1v38h-1zM192 375h1v39h-1zM193 375h1v39h-1zM194 377h1v37h-1zM195 412h1v2h-1zM196 381h1v33h-1zM197 380h1v33h-1zM198 380h1v33h-1zM199 390h1v23h-1zM200 390h1v23h-1zM201 371h1v42h-1zM202 371h1v21h-1zM203 379h1v34h-1zM204 386h1v27h-1zM205 390h1v23h-1zM206 383h1v19h-1zM207 377h1v18h-1zM208 377h1v36h-1zM209 389h1v25h-1zM210 386h1v28h-1zM211 375h1v38h-1zM212 375h1v38h-1zM213 377h1v36h-1zM214 369h1v27h-1zM215 369h1v24h-1zM216 373h1v40h-1zM217 380h1v33h-1zM218 380h1v17h-1zM219 384h1v24h-1zM220 394h1v19h-1zM221 385h1v28h-1zM222 385h1v28h-1zM223 382h1v31h-1zM224 382h1v31h-1zM225 384h1v29h-1zM226 381h1v16h-1zM227 381h1v32h-1zM228 372h1v41h-1zM229 372h1v22h-1zM230 382h1v12h-1zM231 382h1v31h-1zM232 382h1v31h-1zM233 382h1v31h-1zM234 388h1v25h-1zM235 381h1v21h-1zM236 376h1v15h-1zM237 370h1v21h-1zM238 370h1v43h-1zM239 385h1v28h-1zM240 378h1v35h-1zM241 378h1v35h-1zM242 384h1v29h-1zM243 383h1v24h-1zM244 382h1v31h-1zM245 377h1v36h-1zM246 376h1v37h-1zM247 376h1v37h-1zM248 389h1v24h-1zM249 389h1v24h-1zM250 386h1v27h-1zM251 386h1v27h-1zM252 386h1v27h-1zM253 385h1v10h-1zM254 385h1v8h-1zM255 381h1v33h-1zM256 381h1v33h-1zM257 375h1v38h-1zM258 374h1v9h-1zM259 374h1v39h-1zM260 381h1v32h-1zM261 382h1v31h-1zM262 384h1v18h-1zM263 384h1v30h-1zM264 391h1v22h-1zM265 377h1v36h-1zM266 373h1v40h-1zM267 373h1v40h-1zM268 374h1v40h-1zM269 378h1v36h-1zM270 375h1v38h-1zM271 356h1v57h-1zM272 356h1v38h-1zM273 375h1v38h-1zM274 373h1v40h-1zM275 373h1v40h-1zM276 378h1v35h-1zM277 376h1v37h-1zM278 376h1v37h-1zM279 384h1v30h-1zM280 379h1v34h-1zM281 379h1v34h-1zM282 379h1v34h-1zM283 390h1v13h-1zM284 385h1v28h-1zM285 385h1v28h-1zM286 394h1v19h-1zM287 393h1v11h-1zM288 378h1v19h-1zM289 378h1v35h-1zM290 377h1v36h-1zM291 377h1v37h-1zM292 381h1v33h-1zM293 399h1v15h-1zM294 384h1v29h-1zM295 384h1v30h-1zM296 365h1v48h-1zM297 365h1v48h-1zM298 377h1v36h-1zM299 377h1v17h-1zM300 381h1v15h-1zM301 381h1v33h-1zM302 374h1v40h-1zM303 366h1v47h-1zM304 366h1v27h-1zM305 374h1v22h-1zM306 376h1v37h-1zM307 378h1v35h-1zM308 373h1v23h-1zM309 373h1v20h-1zM310 378h1v15h-1zM311 377h1v37h-1zM312 377h1v37h-1zM313 400h1v14h-1zM314 386h1v27h-1zM315 380h1v33h-1zM316 369h1v44h-1zM317 369h1v44h-1zM318 381h1v21h-1zM319 381h1v32h-1zM320 391h1v22h-1zM321 388h1v25h-1zM322 380h1v33h-1zM323 374h1v39h-1zM324 374h1v20h-1zM325 375h1v38h-1zM326 378h1v35h-1zM327 384h1v15h-1zM328 382h1v20h-1zM329 369h1v44h-1zM330 369h1v45h-1zM331 385h1v29h-1zM332 380h1v33h-1zM333 380h1v20h-1zM334 379h1v21h-1zM335 377h1v27h-1zM336 377h1v36h-1zM337 381h1v32h-1zM338 368h1v24h-1zM339 368h1v45h-1zM340 382h1v31h-1zM341 389h1v24h-1zM342 381h1v32h-1zM343 381h1v32h-1zM344 385h1v28h-1zM345 379h1v34h-1zM346 376h1v37h-1zM347 376h1v37h-1zM348 370h1v43h-1zM349 370h1v43h-1zM350 377h1v36h-1zM351 383h1v17h-1zM352 383h1v17h-1zM353 388h1v26h-1zM354 380h1v33h-1zM355 380h1v33h-1zM356 368h1v45h-1zM357 368h1v46h-1zM358 380h1v34h-1zM359 399h1v15h-1zM360 384h1v29h-1zM361 384h1v29h-1zM362 384h1v29h-1zM363 372h1v24h-1zM364 372h1v41h-1zM365 381h1v32h-1zM366 384h1v30h-1zM367 385h1v29h-1zM368 376h1v37h-1zM369 371h1v42h-1zM370 371h1v25h-1zM371 375h1v21h-1zM372 378h1v36h-1zM373 386h1v28h-1zM374 385h1v28h-1zM375 383h1v30h-1zM376 383h1v31h-1zM377 396h1v18h-1zM378 379h1v34h-1zM379 379h1v17h-1zM380 379h1v34h-1zM381 377h1v36h-1zM382 377h1v36h-1zM383 377h1v36h-1zM384 386h1v27h-1zM385 378h1v35h-1zM386 378h1v35h-1zM387 385h1v29h-1zM388 382h1v32h-1zM389 375h1v38h-1zM390 375h1v13h-1zM391 380h1v33h-1zM392 373h1v40h-1zM393 373h1v40h-1zM394 383h1v30h-1zM395 381h1v17h-1zM396 379h1v18h-1zM397 379h1v34h-1zM398 386h1v27h-1zM399 384h1v30h-1zM400 384h1v30h-1zM401 396h1v17h-1zM402 380h1v33h-1zM403 377h1v36h-1zM404 377h1v36h-1zM405 380h1v33h-1zM406 380h1v33h-1zM407 380h1v33h-1zM408 393h1v20h-1zM409 393h1v20h-1zM410 378h1v35h-1zM411 378h1v28h-1zM412 389h1v25h-1zM413 405h1v9h-1zM414 388h1v25h-1zM415 379h1v26h-1zM416 379h1v34h-1zM417 393h1v20h-1zM418 392h1v21h-1zM419 386h1v27h-1zM420 386h1v27h-1zM421 378h1v35h-1zM422 378h1v19h-1zM423 385h1v14h-1zM424 380h1v33h-1zM425 367h1v46h-1zM426 367h1v46h-1zM427 383h1v30h-1zM428 383h1v30h-1zM429 386h1v28h-1zM430 390h1v24h-1zM431 390h1v23h-1zM432 388h1v21h-1zM433 388h1v25h-1zM434 388h1v25h-1zM435 388h1v25h-1zM436 389h1v25h-1zM437 384h1v30h-1zM438 384h1v29h-1zM439 386h1v27h-1zM440 382h1v31h-1zM441 382h1v31h-1zM442 382h1v31h-1zM443 381h1v18h-1zM444 381h1v32h-1zM445 385h1v28h-1zM446 381h1v13h-1zM447 381h1v32h-1zM448 383h1v30h-1zM449 392h1v21h-1zM450 375h1v38h-1zM451 375h1v38h-1zM452 384h1v30h-1zM453 384h1v30h-1zM454 379h1v34h-1zM455 369h1v44h-1zM456 369h1v44h-1zM457 364h1v49h-1zM458 364h1v49h-1zM459 380h1v33h-1zM460 379h1v34h-1zM461 379h1v34h-1zM462 386h1v27h-1zM463 387h1v27h-1zM464 391h1v23h-1zM465 381h1v32h-1zM466 381h1v33h-1zM467 397h1v17h-1zM468 386h1v28h-1zM469 378h1v36h-1zM470 378h1v35h-1zM471 372h1v16h-1zM472 372h1v41h-1zM473 372h1v41h-1zM474 377h1v25h-1zM475 382h1v31h-1zM476 383h1v31h-1zM477 383h1v31h-1zM478 379h1v35h-1zM479 373h1v40h-1zM480 373h1v40h-1zM481 385h1v28h-1zM482 382h1v31h-1zM483 382h1v31h-1zM484 388h1v25h-1zM485 386h1v27h-1zM486 381h1v32h-1zM487 381h1v33h-1zM488 382h1v31h-1zM489 377h1v21h-1zM490 377h1v36h-1zM491 386h1v27h-1zM492 391h1v22h-1zM493 383h1v30h-1zM494 383h1v30h-1zM495 385h1v28h-1zM496 385h1v28h-1zM497 388h1v25h-1zM498 386h1v27h-1zM499 384h1v16h-1zM500 373h1v26h-1zM501 372h1v34h-1zM502 372h1v42h-1zM503 392h1v22h-1zM504 380h1v33h-1zM505 380h1v33h-1zM506 396h1v17h-1zM507 394h1v19h-1zM508 379h1v25h-1zM509 377h1v25h-1zM510 377h1v37h-1zM511 382h1v32h-1zM512 382h1v32h-1zM513 412h1v2h-1zM514 402h1v12h-1zM515 390h1v23h-1zM516 390h1v24h-1zM517 395h1v19h-1zM518 395h1v18h-1zM519 398h1v16h-1zM520 387h1v27h-1zM521 379h1v34h-1zM522 379h1v34h-1zM523 379h1v17h-1zM524 382h1v31h-1zM525 382h1v32h-1zM526 395h1v19h-1zM527 385h1v29h-1zM528 385h1v28h-1zM529 384h1v29h-1zM530 384h1v9h-1zM531 380h1v16h-1zM532 378h1v35h-1zM533 378h1v35h-1zM534 379h1v34h-1zM535 379h1v23h-1zM536 382h1v32h-1zM537 392h1v22h-1zM538 390h1v23h-1zM539 382h1v21h-1zM540 382h1v32h-1zM541 397h1v17h-1zM542 387h1v26h-1zM543 384h1v22h-1zM544 384h1v24h-1zM545 375h1v38h-1zM546 375h1v38h-1zM547 389h1v24h-1zM548 395h1v18h-1zM549 389h1v24h-1zM550 389h1v24h-1zM551 402h1v11h-1zM552 379h1v34h-1zM553 379h1v34h-1zM554 393h1v21h-1zM555 374h1v40h-1zM556 374h1v39h-1zM557 383h1v18h-1zM558 384h1v29h-1zM559 390h1v23h-1zM560 389h1v13h-1zM561 383h1v11h-1zM562 383h1v21h-1zM563 390h1v23h-1zM564 392h1v21h-1zM565 392h1v14h-1zM566 382h1v31h-1zM567 382h1v31h-1zM568 386h1v15h-1zM569 386h1v12h-1zM570 386h1v12h-1zM571 386h1v27h-1zM572 386h1v27h-1zM573 390h1v24h-1zM574 390h1v24h-1zM575 398h1v15h-1zM576 405h1v8h-1z"/></g>
<g fill="#000" shape-rendering="crispEdges"><rect x="240" y="35" width="1" height="385" fill="#fff"/><rect x="241" y="80" width="5" height="1"/><rect x="241" y="68" width="5" height="1"/><rect x="241" y="60" width="5" height="1"/><rect x="241" y="54" width="5" height="1"/><rect x="241" y="49" width="5" height="1"/><rect x="241" y="45" width="5" height="1"/><rect x="241" y="41" width="5" height="1"/><rect x="241" y="38" width="5" height="1"/><rect x="241" y="144" width="5" height="1"/><rect x="241" y="132" width="5" height="1"/><rect x="241" y="124" width="5" height="1"/><rect x="241" y="118" width="5" height="1"/><rect x="241" y="113" width="5" height="1"/><rect x="241" y="109" width="5" height="1"/><rect x="241" y="105" width="5" height="1"/><rect x="241" y="102" width="5" height="1"/><rect x="241" y="99" width="11" height="1"/><rect x="241" y="208" width="5" height="1"/><rect x="241" y="196" width="5" height="1"/><rect x="241" y="188" width="5" height="1"/><rect x="241" y="182" width="5" height="1"/><rect x="241" y="177" width="5" height="1"/><rect x="241" y="173" width="5" height="1"/><rect x="241" y="169" width="5" height="1"/><rect x="241" y="166" width="5" height="1"/><rect x="241" y="163" width="11" height="1"/><rect x="241" y="272" width="5" height="1"/><rect x="241" y="260" width="5" height="1"/><rect x="241" y="252" width="5" height="1"/><rect x="241" y="246" width="5" height="1"/><rect x="241" y="241" width="5" height="1"/><rect x="241" y="237" width="5" height="1"/><rect x="241" y="233" width="5" height="1"/><rect x="241" y="230" width="5" height="1"/><rect x="241" y="227" width="11" height="1"/><rect x="241" y="336" width="5" height="1"/><rect x="241" y="324" width="5" height="1"/><rect x="241" y="316" width="5" height="1"/><rect x="241" y="310" width="5" height="1"/><rect x="241" y="305" width="5" height="1"/><rect x="241" y="301" width="5" height="1"/><rect x="241" y="297" width="5" height="1"/><rect x="241" y="294" width="5" height="1"/><rect x="241" y="291" width="11" height="1"/><rect x="241" y="400" width="5" height="1"/><rect x="241" y="388" width="5" height="1"/><rect x="241" y="380" width="5" height="1"/><rect x="241" y="374" width="5" height="1"/><rect x="241" y="369" width="5" height="1"/><rect x="241" y="365" width="5" height="1"/><rect x="241" y="361" width="5" height="1"/><rect x="241" y="358" width="5" height="1"/><rect x="241" y="355" width="11" height="1"/><rect x="408" y="35" width="1" height="385" fill="#fff"/><rect x="409" y="80" width="5" height="1"/><rect x="409" y="68" width="5" height="1"/><rect x="409" y="60" width="5" height="1"/><rect x="409" y="54" width="5" height="1"/><rect x="409" y="49" width="5" height="1"/><rect x="409" y="45" width="5" height="1"/><rect x="409" y="41" width="5" height="1"/><rect x="409" y="38" width="5" height="1"/><rect x="409" y="144" width="5" height="1"/><rect x="409" y="132" width="5" height="1"/><rect x="409" y="124" width="5" height="1"/><rect x="409" y="118" width="5" height="1"/><rect x="409" y="113" width="5" height="1"/><rect x="409" y="109" width="5" height="1"/><rect x="409" y="105" width="5" height="1"/><rect x="409" y="102" width="5" height="1"/><rect x="409" y="99" width="11" height="1"/><rect x="409" y="208" width="5" height="1"/><rect x="409" y="196" width="5" height="1"/><rect x="409" y="188" width="5" height="1"/><rect x="409" y="182" width="5" height="1"/><rect x="409" y="177" width="5" height="1"/><rect x="409" y="173" width="5" height="1"/><rect x="409" y="169" width="5" height="1"/><rect x="409" y="166" width="5" height="1"/><rect x="409" y="163" width="11" height="1"/><rect x="409" y="272" width="5" height="1"/><rect x="409" y="260" width="5" height="1"/><rect x="409" y="252" width="5" height="1"/><rect x="409" y="246" width="5" height="1"/><rect x="409" y="241" width="5" height="1"/><rect x="409" y="237" width="5" height="1"/><rect x="409" y="233" width="5" height="1"/><rect x="409" y="230" width="5" height="1"/><rect x="409" y="227" width="11" height="1"/><rect x="409" y="336" width="5" height="1"/><rect x="409" y="324" width="5" height="1"/><rect x="409" y="316" width="5" height="1"/><rect x="409" y="310" width="5" height="1"/><rect x="409" y="305" width="5" height="1"/><rect x="409" y="301" width="5" height="1"/><rect x="409" y="297" width="5" height="1"/><rect x="409" y="294" width="5" height="1"/><rect x="409" y="291" width="11" height="1"/><rect x="409" y="400" width="5" height="1"/><rect x="409" y="388" width="5" height="1"/><rect x="409" y="380" width="5" height="1"/><rect x="409" y="374" width="5" height="1"/><rect x="409" y="369" width="5" height="1"/><rect x="409" y="365" width="5" height="1"/><rect x="409" y="361" width="5" height="1"/><rect x="409" y="358" width="5" height="1"/><rect x="409" y="355" width="11" height="1"/><rect x="240" y="35" width="1" height="1" fill="#fff"/><rect x="240" y="419" width="1" height="1" fill="#fff"/><rect x="408" y="35" width="1" height="1" fill="#fff"/><rect x="408" y="419" width="1" height="1" fill="#fff"/></g>
<g fill="#000"><text x="45" y="46" font-family="'Liberation Sans', sans-serif" font-size="16">10<tspan font-size="9" dy="-7.5" stroke="#000" stroke-width="0.35">4</tspan></text><text x="45" y="106" font-family="'Liberation Sans', sans-serif" font-size="16">10<tspan font-size="9" dy="-7.5" stroke="#000" stroke-width="0.35">3</tspan></text><text x="45" y="170" font-family="'Liberation Sans', sans-serif" font-size="16">10<tspan font-size="9" dy="-7.5" stroke="#000" stroke-width="0.35">2</tspan></text><text x="45" y="234" font-family="'Liberation Sans', sans-serif" font-size="16">10<tspan font-size="9" dy="-7.5" stroke="#000" stroke-width="0.35">1</tspan></text><text x="45" y="298" font-family="'Liberation Sans', sans-serif" font-size="16">10<tspan font-size="9" dy="-7.5" stroke="#000" stroke-width="0.35">0</tspan></text><text x="39" y="362" font-family="'Liberation Sans', sans-serif" font-size="16">10<tspan font-size="9" dy="-7.5" stroke="#000" stroke-width="0.35">−1</tspan></text><text x="39" y="420" font-family="'Liberation Sans', sans-serif" font-size="16">10<tspan font-size="9" dy="-7.5" stroke="#000" stroke-width="0.35">−2</tspan></text><text x="34.0" y="23" font-family="'Liberation Serif', serif" font-size="17" stroke="#000" stroke-width="0.5" textLength="51.0" lengthAdjust="spacingAndGlyphs">GOES8</text><text x="95.0" y="23" font-family="'Liberation Serif', serif" font-size="17" stroke="#000" stroke-width="0.5" textLength="58.0" lengthAdjust="spacingAndGlyphs">Proton</text><text x="162.0" y="23" font-family="'Liberation Serif', serif" font-size="17" stroke="#000" stroke-width="0.5" textLength="37.0" lengthAdjust="spacingAndGlyphs">Flux</text><text x="208.0" y="23" font-family="'Liberation Serif', serif" font-size="17" stroke="#000" stroke-width="0.5" textLength="15.0" lengthAdjust="spacingAndGlyphs">(5</text><text x="233.0" y="23" font-family="'Liberation Serif', serif" font-size="17" stroke="#000" stroke-width="0.5" textLength="61.0" lengthAdjust="spacingAndGlyphs">minute</text><text x="305.0" y="23" font-family="'Liberation Serif', serif" font-size="17" stroke="#000" stroke-width="0.5" textLength="45.0" lengthAdjust="spacingAndGlyphs">data)</text><text x="409.0" y="28" font-family="'Liberation Serif', serif" font-size="15" stroke="#000" stroke-width="0.5" textLength="49.8" lengthAdjust="spacingAndGlyphs">Begin:</text><text x="465.0" y="28" font-family="'Liberation Sans', sans-serif" font-size="14" textLength="35.2" lengthAdjust="spacingAndGlyphs">2001</text><text x="509.4" y="28" font-family="'Liberation Sans', sans-serif" font-size="14" textLength="24.0" lengthAdjust="spacingAndGlyphs">Feb</text><text x="542.2" y="28" font-family="'Liberation Sans', sans-serif" font-size="14" textLength="18.8" lengthAdjust="spacingAndGlyphs">17</text><text x="568.2" y="28" font-family="'Liberation Sans', sans-serif" font-size="14" textLength="37.0" lengthAdjust="spacingAndGlyphs">0000</text><text x="612.8" y="28" font-family="'Liberation Sans', sans-serif" font-size="14" textLength="27.2" lengthAdjust="spacingAndGlyphs">UTC</text><text x="49.0" y="438" font-family="'Liberation Sans', sans-serif" font-size="14" textLength="22.0" lengthAdjust="spacingAndGlyphs">Feb</text><text x="80.0" y="438" font-family="'Liberation Sans', sans-serif" font-size="14" textLength="16.0" lengthAdjust="spacingAndGlyphs">17</text><text x="217.2" y="438" font-family="'Liberation Sans', sans-serif" font-size="14" textLength="21.8" lengthAdjust="spacingAndGlyphs">Feb</text><text x="248.0" y="438" font-family="'Liberation Sans', sans-serif" font-size="14" textLength="16.0" lengthAdjust="spacingAndGlyphs">18</text><text x="385.2" y="438" font-family="'Liberation Sans', sans-serif" font-size="14" textLength="21.8" lengthAdjust="spacingAndGlyphs">Feb</text><text x="416.0" y="438" font-family="'Liberation Sans', sans-serif" font-size="14" textLength="16.0" lengthAdjust="spacingAndGlyphs">19</text><text x="552.5" y="438" font-family="'Liberation Sans', sans-serif" font-size="14" textLength="23.5" lengthAdjust="spacingAndGlyphs">Feb</text><text x="582.0" y="438" font-family="'Liberation Sans', sans-serif" font-size="14" textLength="17.5" lengthAdjust="spacingAndGlyphs">20</text><text x="269.6" y="453" font-family="'Liberation Serif', serif" font-size="15" stroke="#000" stroke-width="0.5" textLength="66.6" lengthAdjust="spacingAndGlyphs">Universal</text><text x="345.2" y="453" font-family="'Liberation Serif', serif" font-size="15" stroke="#000" stroke-width="0.5" textLength="33.2" lengthAdjust="spacingAndGlyphs">Time</text><text x="1.0" y="475" font-family="'Liberation Serif', serif" font-size="16" stroke="#000" stroke-width="0.5" textLength="63.2" lengthAdjust="spacingAndGlyphs">Updated</text><text x="73.0" y="475" font-family="'Liberation Sans', sans-serif" font-size="14" textLength="34.8" lengthAdjust="spacingAndGlyphs">2001</text><text x="117.2" y="475" font-family="'Liberation Sans', sans-serif" font-size="14" textLength="24.4" lengthAdjust="spacingAndGlyphs">Feb</text><text x="150.0" y="475" font-family="'Liberation Sans', sans-serif" font-size="14" textLength="18.0" lengthAdjust="spacingAndGlyphs">19</text><text x="176.4" y="475" font-family="'Liberation Sans', sans-serif" font-size="14" textLength="63.2" lengthAdjust="spacingAndGlyphs">23:56:04</text><text x="248.4" y="475" font-family="'Liberation Sans', sans-serif" font-size="14" textLength="27.4" lengthAdjust="spacingAndGlyphs">UTC</text><text x="422.6" y="475" font-family="'Liberation Serif', serif" font-size="16" stroke="#000" stroke-width="0.5" textLength="78.2" lengthAdjust="spacingAndGlyphs">NOAA/SEC</text><text x="508.5" y="475" font-family="'Liberation Serif', serif" font-size="16" stroke="#000" stroke-width="0.5" textLength="66.9" lengthAdjust="spacingAndGlyphs">Boulder,</text><text x="584.2" y="475" font-family="'Liberation Serif', serif" font-size="16" stroke="#000" stroke-width="0.5" textLength="18.6" lengthAdjust="spacingAndGlyphs">CO</text><text x="611.0" y="475" font-family="'Liberation Serif', serif" font-size="16" stroke="#000" stroke-width="0.5" textLength="28.0" lengthAdjust="spacingAndGlyphs">USA</text><text transform="translate(21,337.0) rotate(-90)" font-family="'Liberation Serif', serif" font-size="21" stroke="#000" stroke-width="0.15" textLength="91.0" lengthAdjust="spacingAndGlyphs">Particles</text><text transform="translate(21,236.0) rotate(-90)" font-family="'Liberation Serif', serif" font-size="21" stroke="#000" stroke-width="0.15" textLength="31.0" lengthAdjust="spacingAndGlyphs">cm</text><text transform="translate(12,204.0) rotate(-90)" font-family="'Liberation Serif', serif" font-size="10" stroke="#000" stroke-width="0.15" textLength="11.0" lengthAdjust="spacingAndGlyphs">−2</text><text transform="translate(21,193.0) rotate(-90)" font-family="'Liberation Serif', serif" font-size="21" stroke="#000" stroke-width="0.15" textLength="10.0" lengthAdjust="spacingAndGlyphs">s</text><text transform="translate(12,182.0) rotate(-90)" font-family="'Liberation Serif', serif" font-size="10" stroke="#000" stroke-width="0.15" textLength="11.0" lengthAdjust="spacingAndGlyphs">−1</text><text transform="translate(21,171.0) rotate(-90)" font-family="'Liberation Serif', serif" font-size="21" stroke="#000" stroke-width="0.15" textLength="15.8" lengthAdjust="spacingAndGlyphs">sr</text><text transform="translate(12,152.0) rotate(-90)" font-family="'Liberation Serif', serif" font-size="10" stroke="#000" stroke-width="0.15" textLength="13.0" lengthAdjust="spacingAndGlyphs">−1</text><text transform="translate(622,143.0) rotate(-90)" font-family="'Liberation Sans', sans-serif" font-size="18" stroke="#fff" stroke-width="0.2" textLength="32.4" lengthAdjust="spacingAndGlyphs">MeV</text><text transform="translate(622,215.0) rotate(-90)" font-family="'Liberation Sans', sans-serif" font-size="18" stroke="#fff" stroke-width="0.2" textLength="48.0" lengthAdjust="spacingAndGlyphs" fill="#ff2000">&gt;=10</text><text transform="translate(622,311.0) rotate(-90)" font-family="'Liberation Sans', sans-serif" font-size="18" stroke="#fff" stroke-width="0.2" textLength="48.0" lengthAdjust="spacingAndGlyphs" fill="#2000ff">&gt;=50</text><text transform="translate(622,407.0) rotate(-90)" font-family="'Liberation Sans', sans-serif" font-size="18" stroke="#fff" stroke-width="0.2" textLength="59.0" lengthAdjust="spacingAndGlyphs" fill="#20ff00">&gt;=100</text></g>
</svg>
</body></html>
